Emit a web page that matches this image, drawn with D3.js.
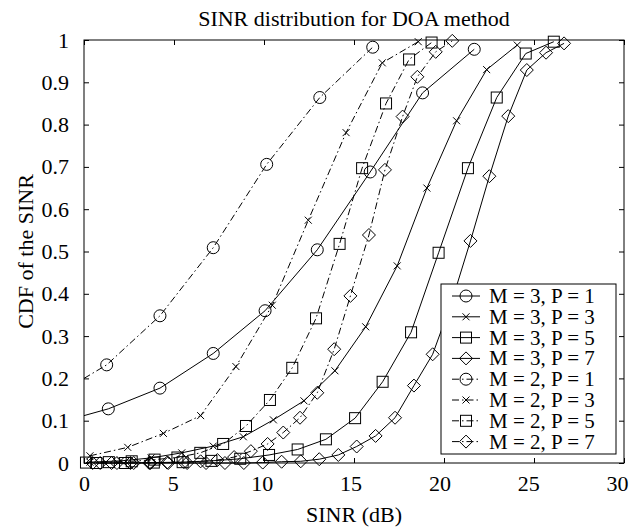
<!DOCTYPE html>
<html>
<head>
<meta charset="utf-8">
<script src="https://cdn.jsdelivr.net/npm/d3@7"></script>
<style>
	body { margin: 0; background: #fff; }
	svg text { font-family: "Liberation Serif", "Times New Roman", serif; fill: #000; }
</style>
</head>
<body>
<div id="chart"></div>
<script>
// SINR (dB) sample points and CDF values
var sinrM3P1 = [0, 1.35, 4.22, 7.18, 10.06, 12.96, 15.9, 18.81, 21.68]
var cdfM3P1 = [0.112, 0.128, 0.177, 0.259, 0.360, 0.504, 0.688, 0.875, 0.978]

var sinrM3P3 = [0.33, 2.03, 3.73, 5.43, 7.18, 8.85, 10.52, 12.22, 13.94, 15.65, 17.4, 19.05, 20.7, 22.37, 24.07]
var cdfM3P3 = [0.002, 0.005, 0.012, 0.024, 0.040, 0.062, 0.102, 0.147, 0.218, 0.322, 0.466, 0.65, 0.809, 0.93, 0.988]

var sinrM3P5 = [0.68, 2.28, 3.88, 5.48, 7.08, 8.68, 10.28, 11.87, 13.44, 15.06, 16.59, 18.17, 19.7, 21.33, 22.93, 24.54, 26.1]
var cdfM3P5 = [0, 0, 0.001, 0.002, 0.005, 0.010, 0.019, 0.032, 0.056, 0.106, 0.192, 0.309, 0.497, 0.697, 0.864, 0.968, 0.996]

var sinrM3P7 = [0.48, 1.53, 2.58, 3.63, 4.68, 5.73, 6.78, 7.83, 8.88, 9.93, 10.98, 12.04, 13.07, 14.13, 15.15, 16.2, 17.28, 18.33, 19.37, 20.42, 21.47, 22.52, 23.57, 24.6, 25.67, 26.67]
var cdfM3P7 = [0, 0, 0, 0, 0, 0, 0, 0, 0, 0.001, 0.003, 0.004, 0.009, 0.019, 0.039, 0.064, 0.107, 0.183, 0.257, 0.38, 0.525, 0.678, 0.82, 0.929, 0.97, 0.992]

var sinrM2P1 = [0, 1.26, 4.22, 7.18, 10.15, 13.1, 16.04]
var cdfM2P1 = [0.2, 0.232, 0.348, 0.509, 0.706, 0.864, 0.983]

var sinrM2P3 = [0.33, 2.43, 4.41, 6.48, 8.44, 10.46, 12.46, 14.56, 16.57, 18.57]
var cdfM2P3 = [0.017, 0.037, 0.070, 0.112, 0.228, 0.373, 0.574, 0.781, 0.946, 0.996]

var sinrM2P5 = [0.11, 1.38, 2.65, 3.92, 5.19, 6.46, 7.73, 9.0, 10.33, 11.57, 12.89, 14.2, 15.45, 16.78, 18.06, 19.31]
var cdfM2P5 = [0.001, 0.002, 0.004, 0.008, 0.013, 0.024, 0.045, 0.0875, 0.149, 0.225, 0.342, 0.518, 0.697, 0.85, 0.954, 0.994]

var sinrM2P7 = [0.9, 1.83, 2.76, 3.69, 4.62, 5.55, 6.48, 7.41, 8.34, 9.27, 10.2, 11.07, 12.0, 12.96, 13.9, 14.8, 15.83, 16.72, 17.7, 18.52, 19.54, 20.46]
var cdfM2P7 = [0, 0, 0, 0, 0.001, 0.002, 0.004, 0.007, 0.014, 0.028, 0.045, 0.072, 0.107, 0.166, 0.269, 0.395, 0.539, 0.693, 0.819, 0.913, 0.972, 0.998]

var seriesNames = ['M = 3, P = 1', 'M = 3, P = 3', 'M = 3, P = 5', 'M = 3, P = 7',
	'M = 2, P = 1', 'M = 2, P = 3', 'M = 2, P = 5', 'M = 2, P = 7']
var seriesMarkers = ['circle', 'cross', 'square', 'diamond', 'circle', 'cross', 'square', 'diamond']
var seriesDashed = [false, false, false, false, true, true, true, true]
var seriesX = [sinrM3P1, sinrM3P3, sinrM3P5, sinrM3P7, sinrM2P1, sinrM2P3, sinrM2P5, sinrM2P7]
var seriesY = [cdfM3P1, cdfM3P3, cdfM3P5, cdfM3P7, cdfM2P1, cdfM2P3, cdfM2P5, cdfM2P7]

var xTicks = [0, 5, 10, 15, 20, 25, 30]
var yTicks = [0, 0.1, 0.2, 0.3, 0.4, 0.5, 0.6, 0.7, 0.8, 0.9, 1]

;(function() {
	var width = 633
	var height = 530
	var margin = { top: 40, right: 9, bottom: 67, left: 84 }
	var plotW = width - margin.left - margin.right
	var plotH = height - margin.top - margin.bottom
	var dashPattern = '7,3,1.5,3'
	var fontSize = 22

	var svg = d3.select('#chart').append('svg')
		.attr('width', width)
		.attr('height', height)

	var chart = svg.append('g')
		.attr('transform', translate(margin.left, margin.top))

	var scaleX = d3.scaleLinear().domain([0, 30]).range([0, plotW])
	var scaleY = d3.scaleLinear().domain([0, 1]).range([plotH, 0])

	function translate(x, y) {
		return 'translate(' + x + ',' + y + ')'
	}

	// marker drawing, hollow like matlab
	function drawMarker(g, type) {
		if (type === 'circle') {
			g.append('circle').attr('r', 6)
		} else if (type === 'square') {
			g.append('rect').attr('x', -5.5).attr('y', -5.5).attr('width', 11).attr('height', 11)
		} else if (type === 'diamond') {
			g.append('path').attr('d', 'M0,-6.5L6.5,0L0,6.5L-6.5,0Z')
		} else {
			g.append('path').attr('d', 'M-3.5,-3.5L3.5,3.5M-3.5,3.5L3.5,-3.5')
		}
		g.selectAll('*')
			.attr('fill', 'none')
			.attr('stroke', '#000')
			.attr('stroke-width', 1)
	}

	function fmtY(d) {
		return d === 0 || d === 1 ? String(d) : d.toFixed(1)
	}

	// axes, ticks inside on all four sides
	var xAxis = d3.axisBottom(scaleX).tickValues(xTicks).tickSizeInner(-5).tickSizeOuter(0).tickPadding(12)
	var xAxisTop = d3.axisTop(scaleX).tickValues(xTicks).tickSizeInner(-5).tickSizeOuter(0).tickFormat('')
	var yAxis = d3.axisLeft(scaleY).tickValues(yTicks).tickSizeInner(-5).tickSizeOuter(0).tickPadding(15).tickFormat(fmtY)
	var yAxisRight = d3.axisRight(scaleY).tickValues(yTicks).tickSizeInner(-5).tickSizeOuter(0).tickFormat('')

	var axes = [
		chart.append('g').attr('transform', translate(0, plotH)).call(xAxis),
		chart.append('g').call(xAxisTop),
		chart.append('g').call(yAxis),
		chart.append('g').attr('transform', translate(plotW, 0)).call(yAxisRight)
	]
	axes.forEach(function(a) {
		a.select('.domain').remove()
		a.selectAll('.tick line').attr('stroke', '#000')
		a.selectAll('.tick text')
			.style('font-size', fontSize + 'px')
			.style('font-family', '"Liberation Serif", serif')
	})
	// the x labels in the original drift a little left of their ticks
	axes[0].selectAll('.tick text')
		.attr('dx', function(d) { return -d * 0.23 })

	chart.append('rect')
		.attr('width', plotW)
		.attr('height', plotH)
		.attr('fill', 'none')
		.attr('stroke', '#000')
		.attr('stroke-width', 1)

	// series
	var line = d3.line()
		.x(function(d) { return scaleX(d[0]) })
		.y(function(d) { return scaleY(d[1]) })

	seriesNames.forEach(function(name, i) {
		var pts = d3.zip(seriesX[i], seriesY[i])
		chart.append('path')
			.datum(pts)
			.attr('d', line)
			.attr('fill', 'none')
			.attr('stroke', '#000')
			.attr('stroke-width', 1)
			.attr('stroke-dasharray', seriesDashed[i] ? dashPattern : null)

		// first point of the P = 1 curves sits on the axis edge, no marker there
		pts.filter(function(d) { return d[0] > 0 }).forEach(function(d) {
			var m = chart.append('g').attr('transform', translate(scaleX(d[0]), scaleY(d[1])))
			drawMarker(m, seriesMarkers[i])
		})
	})

	// legend
	var legend = svg.append('g').attr('transform', translate(441, 284))
	legend.append('rect')
		.attr('width', 175)
		.attr('height', 170)
		.attr('fill', '#fff')
		.attr('stroke', '#000')
		.attr('stroke-width', 1)

	seriesNames.forEach(function(name, i) {
		var row = legend.append('g').attr('transform', translate(0, 12 + i * 20.8))
		row.append('line')
			.attr('x1', 11).attr('x2', 39)
			.attr('stroke', '#000')
			.attr('stroke-width', 1)
			.attr('stroke-dasharray', seriesDashed[i] ? dashPattern : null)
		drawMarker(row.append('g').attr('transform', translate(25, 0)), seriesMarkers[i])
		row.append('text')
			.attr('x', 48)
			.attr('y', 7)
			.style('font-size', '21px')
			.text(name)
	})

	// titles
	svg.append('text')
		.attr('x', margin.left + plotW / 2)
		.attr('y', 26)
		.attr('text-anchor', 'middle')
		.style('font-size', fontSize + 'px')
		.text('SINR distribution for DOA method')

	svg.append('text')
		.attr('x', margin.left + plotW / 2)
		.attr('y', 522)
		.attr('text-anchor', 'middle')
		.style('font-size', fontSize + 'px')
		.text('SINR (dB)')

	svg.append('text')
		.attr('transform', translate(33, margin.top + plotH / 2) + ' rotate(-90)')
		.attr('text-anchor', 'middle')
		.style('font-size', fontSize + 'px')
		.text('CDF of the SINR')
})()
</script>
</body>
</html>
